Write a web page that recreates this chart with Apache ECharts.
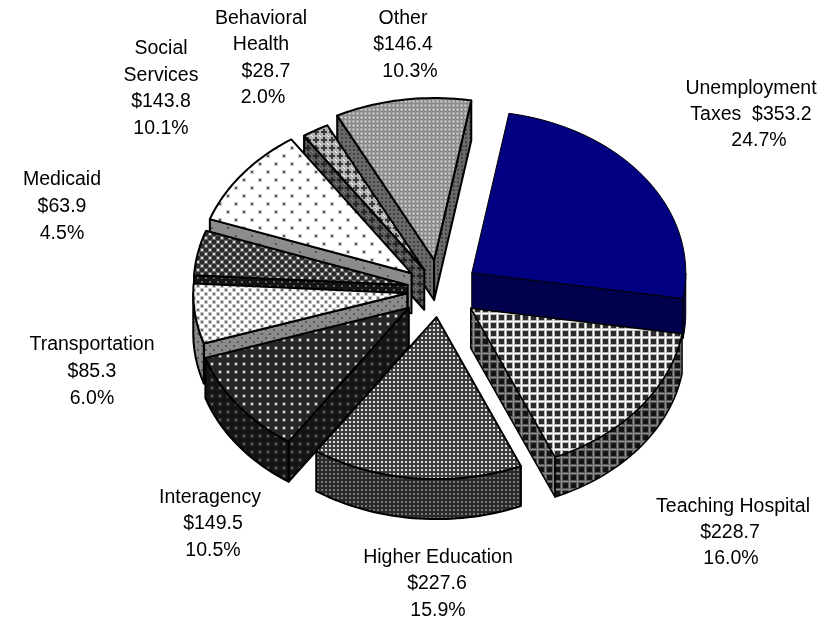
<!DOCTYPE html>
<html>
<head>
<meta charset="utf-8">
<style>html,body{margin:0;padding:0;background:#fff}#chart{width:830px;height:622px}</style>
<script src="https://cdn.jsdelivr.net/npm/echarts@6/dist/echarts.min.js"></script>
</head>
<body>
<div id="chart"></div>
<script>
// Budget components, clockwise from the top right
const nameLines = [
  ['Unemployment', 'Taxes'], ['Teaching Hospital'], ['Higher Education'],
  ['Interagency'], ['Transportation'], ['Medicaid'],
  ['Social', 'Services'], ['Behavioral', 'Health'], ['Other']
];
const amounts = [353.2, 228.7, 227.6, 149.5, 85.3, 63.9, 143.8, 28.7, 146.4];
const percents = ['24.7%', '16.0%', '15.9%', '10.5%', '6.0%', '4.5%', '10.1%', '2.0%', '10.3%'];

// Radial pull-out of each wedge and the back-to-front paint rank
const explode = [39, 39, 36, 39, 33, 33, 36, 31, 40];
const paintRank = [6, 7, 8, 5, 4, 3, 2, 1, 0];

// Centre x / middle y of each text line of each label
const labelAnchors = [
  [[751, 89], [751, 115], [759, 141]],
  [[733, 507], [730, 533], [731, 559]],
  [[438, 558], [437, 584], [438, 611]],
  [[210, 498], [213, 524], [213, 551]],
  [[92, 345], [92, 372], [92, 399]],
  [[62, 180], [62, 207], [62, 234]],
  [[161, 49], [161, 76], [161, 102], [161, 129]],
  [[261, 19], [261, 45], [266, 72], [263, 98]],
  [[403, 19], [403, 45], [410, 72]]
];

const pie = { cx: 440, cy: 290, rx: 214, ry: 162, depth: 40, start: 10 };

function tile(w, h, bg, paint) {
  const c = document.createElement('canvas');
  c.width = w; c.height = h;
  const g = c.getContext('2d');
  g.fillStyle = bg; g.fillRect(0, 0, w, h);
  paint(g);
  return { image: c, repeat: 'repeat' };
}
function dots(w, h, bg, fg, pts, s, halo) {
  return tile(w, h, bg, g => {
    pts.forEach(p => {
      if (halo) { g.fillStyle = halo; g.fillRect(p[0] - 1, p[1] - 1, s + 2, s + 2); }
      g.fillStyle = fg; g.fillRect(p[0], p[1], s, s);
    });
  });
}
function grid(pitch, bg, line, halo) {
  return tile(pitch, pitch, bg, g => {
    g.fillStyle = halo; g.fillRect(0, 0, 3, pitch); g.fillRect(0, 0, pitch, 3);
    g.fillStyle = line; g.fillRect(1, 0, 1, pitch); g.fillRect(0, 1, pitch, 1);
  });
}
function clover(bg, fg, spot) {
  return tile(8, 8, bg, g => {
    g.fillStyle = fg;
    g.fillRect(3, 1, 2, 6); g.fillRect(1, 3, 6, 2);
    g.fillStyle = spot;
    g.fillRect(0, 0, 1, 1); g.fillRect(7, 7, 1, 1);
  });
}
const stagger = [[1, 1], [5, 5]];
const sparse = [[3, 3], [11, 11]];

// Top and side fill and outline weight for each wedge
const fills = [
  { top: '#000080', side: '#00004d', width: 1 },
  { top: grid(8, '#2b2b2b', '#ffffff', '#b8b8b8'), side: grid(8, '#141414', '#8a8a8a', '#585858'), width: 1.5 },
  { top: dots(4, 4, '#3c3c3c', '#e0e0e0', [[1, 1]], 2), side: dots(4, 4, '#2a2a2a', '#777777', [[1, 1]], 2), width: 2 },
  { top: dots(8, 8, '#262626', '#e4e4e4', [[3, 3]], 2, '#555555'), side: dots(8, 8, '#141414', '#5c5c5c', [[3, 3]], 2, '#2a2a2a'), width: 2 },
  { top: dots(8, 8, '#ffffff', '#666666', stagger, 2, '#cccccc'), side: dots(8, 8, '#8a8a8a', '#5a5a5a', stagger, 2), width: 2 },
  { top: dots(8, 8, '#2c2c2c', '#dddddd', stagger, 2, '#666666'), side: dots(8, 8, '#141414', '#666666', stagger, 2), width: 2 },
  { top: dots(16, 16, '#ffffff', '#555555', sparse, 2, '#cccccc'), side: dots(16, 16, '#8c8c8c', '#555555', sparse, 2), width: 2 },
  { top: clover('#b4b4b4', '#3a3a3a', '#f4f4f4'), side: clover('#5a5a5a', '#262626', '#888888'), width: 2 },
  { top: dots(4, 4, '#8a8a8a', '#e8e8e8', [[1, 1]], 1, '#a6a6a6'), side: dots(4, 4, '#6a6a6a', '#444444', [[1, 1]], 2), width: 2 }
];

const total = amounts.reduce((a, b) => a + b, 0);
const rad = d => d * Math.PI / 180;

function renderWedge(params, api) {
  const i = params.dataIndex;
  const before = amounts.slice(0, i).reduce((a, b) => a + b, 0);
  const t0 = pie.start + before / total * 360;
  const t1 = t0 + api.value(0) / total * 360;
  const mid = rad((t0 + t1) / 2);
  const ax = pie.cx + explode[i] * Math.sin(mid);
  const ay = pie.cy - explode[i] * Math.cos(mid) * pie.ry / pie.rx;
  const at = (t, drop) => [ax + pie.rx * Math.sin(rad(t)), ay - pie.ry * Math.cos(rad(t)) + drop];
  const arc = (from, to, drop) => {
    const out = [], n = Math.max(2, Math.ceil(Math.abs(to - from) / 1.5));
    for (let k = 0; k <= n; k++) out.push(at(from + (to - from) * k / n, drop));
    return out;
  };
  const f = fills[i];
  const line = { stroke: '#000', lineWidth: f.width, lineJoin: 'round' };
  const face = (points, fill, order) => ({
    type: 'polygon', z2: paintRank[i] * 10 + order, silent: true,
    shape: { points }, style: Object.assign({ fill }, line)
  });
  const children = [];
  const d = pie.depth;
  const cut = t => [[ax, ay], at(t, 0), at(t, d), [ax, ay + d]];
  // Cut faces turned towards the viewer
  if (Math.sin(rad(t0)) < 0) children.push(face(cut(t0), f.side, 0));
  if (Math.sin(rad(t1)) > 0) children.push(face(cut(t1), f.side, 0));
  // Front part of the outer wall
  const a = Math.max(t0, 90), b = Math.min(t1, 270);
  if (b > a) children.push(face(arc(a, b, 0).concat(arc(b, a, d)), f.side, 1));
  // Top surface
  children.push(face([[ax, ay]].concat(arc(t0, t1, 0)), f.top, 2));
  return { type: 'group', children };
}

const labelGraphics = [];
nameLines.forEach((names, i) => {
  const money = '$' + amounts[i].toFixed(1);
  const lines = names.length === 2 && names[1] === 'Taxes'
    ? [names[0], names[1] + '  ' + money, percents[i]]
    : names.concat([money, percents[i]]);
  lines.forEach((text, k) => {
    labelGraphics.push({
      type: 'text', x: labelAnchors[i][k][0], y: labelAnchors[i][k][1], silent: true,
      style: { text, fill: '#000', font: '19.5px "Liberation Sans", Arial, sans-serif', textAlign: 'center', textVerticalAlign: 'middle' }
    });
  });
});

const chart = echarts.init(document.getElementById('chart'), null, { renderer: 'canvas' });
chart.setOption({
  backgroundColor: '#fff',
  animation: false,
  graphic: { elements: labelGraphics },
  series: [{
    type: 'custom',
    coordinateSystem: 'none',
    renderItem: renderWedge,
    data: amounts.map(v => [v])
  }]
});
</script>
</body>
</html>
